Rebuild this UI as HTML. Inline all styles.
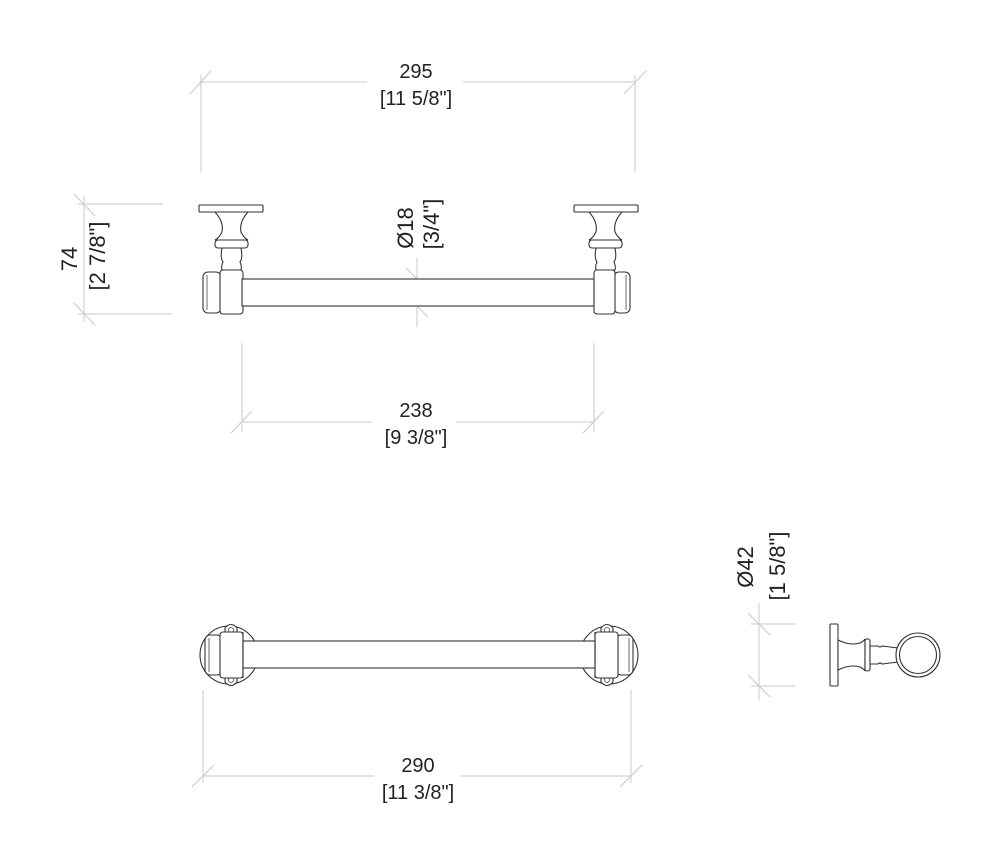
<!DOCTYPE html>
<html><head><meta charset="utf-8"><style>
html,body{margin:0;padding:0;background:#fff;}
svg{display:block;}
text{font-family:"Liberation Sans","DejaVu Sans",sans-serif;font-size:20px;fill:#222;text-anchor:middle;}
text.r{font-size:22px;}
.d{stroke:#c8c8c8;stroke-width:1;fill:none;}
.o{stroke:#333;stroke-width:1.1;fill:#fff;}
.t{stroke:#444;stroke-width:0.8;fill:none;}
</style></head><body>
<svg width="1000" height="859" viewBox="0 0 1000 859">
<!-- 295 dim -->
<line class="d" x1="201" y1="75" x2="201" y2="172"/>
<line class="d" x1="635" y1="75" x2="635" y2="172"/>
<line class="d" x1="201" y1="82" x2="367" y2="82"/>
<line class="d" x1="463" y1="82" x2="635" y2="82"/>
<line class="d" x1="190" y1="94" x2="211" y2="71"/>
<line class="d" x1="624" y1="94" x2="646" y2="71"/>
<text x="416" y="78">295</text>
<text x="416" y="105">[11 5/8"]</text>

<!-- 74 dim -->
<line class="d" x1="78" y1="204" x2="163" y2="204"/>
<line class="d" x1="78" y1="314" x2="172" y2="314"/>
<line class="d" x1="84" y1="196" x2="84" y2="322"/>
<line class="d" x1="74" y1="194" x2="95" y2="216"/>
<line class="d" x1="74" y1="303" x2="95" y2="325"/>
<text class="r" transform="translate(77,259) rotate(-90)">74</text>
<text class="r" transform="translate(105,256) rotate(-90)">[2 7/8"]</text>

<!-- Ø18 -->
<line class="d" x1="417" y1="258" x2="417" y2="327"/>
<line class="d" x1="406" y1="268" x2="428" y2="290"/>
<line class="d" x1="406" y1="295" x2="428" y2="317"/>
<text class="r" transform="translate(413,228) rotate(-90)">Ø18</text>
<text class="r" transform="translate(439,224) rotate(-90)">[3/4"]</text>

<!-- top view parts -->
<g>
<rect class="o" x="199" y="205" width="64" height="7" rx="1"/>
<line class="t" x1="222" y1="212" x2="242" y2="212"/>
<path class="o" d="M215,212 Q224,222 222,232 Q219,238 215,240 L248,240 Q244,238 241,232 Q239,222 248,212 Z"/>
<rect class="o" x="215" y="240" width="33" height="8" rx="3"/>
<path class="o" d="M222,248 Q220,258 223,262 Q221,266 222,270 L241,270 Q242,266 240,262 Q243,258 241,248 Z"/>
<rect class="o" x="203" y="272" width="18" height="41" rx="5"/>
<line class="t" x1="207" y1="275" x2="207" y2="310"/>
<rect class="o" x="220" y="270" width="23" height="44" rx="3"/>
</g>
<rect class="o" x="242" y="279" width="352" height="27"/>
<g transform="translate(837,0) scale(-1,1)">
<rect class="o" x="199" y="205" width="64" height="7" rx="1"/>
<line class="t" x1="222" y1="212" x2="242" y2="212"/>
<path class="o" d="M215,212 Q224,222 222,232 Q219,238 215,240 L248,240 Q244,238 241,232 Q239,222 248,212 Z"/>
<rect class="o" x="215" y="240" width="33" height="8" rx="3"/>
<path class="o" d="M222,248 Q220,258 223,262 Q221,266 222,270 L241,270 Q242,266 240,262 Q243,258 241,248 Z"/>
<rect class="o" x="207" y="272" width="16" height="41" rx="5"/>
<line class="t" x1="211" y1="275" x2="211" y2="310"/>
<rect class="o" x="222" y="270" width="21" height="44" rx="3"/>
</g>

<!-- 238 dim -->
<line class="d" x1="242" y1="343" x2="242" y2="431"/>
<line class="d" x1="594" y1="343" x2="594" y2="431"/>
<line class="d" x1="242" y1="422" x2="372" y2="422"/>
<line class="d" x1="456" y1="422" x2="594" y2="422"/>
<line class="d" x1="231" y1="433" x2="252" y2="411"/>
<line class="d" x1="583" y1="433" x2="604" y2="411"/>
<text x="416" y="417">238</text>
<text x="416" y="444">[9 3/8"]</text>

<!-- bottom view -->
<g>
<circle class="o" cx="229" cy="655" r="29"/>
<path class="o" d="M225,634 L225,628 Q231,621 237,628 L237,634 Z"/>
<path class="o" d="M225,676 L225,682 Q231,689 237,682 L237,676 Z"/>
<circle class="t" cx="231" cy="630" r="2.5"/>
<circle class="t" cx="231" cy="680" r="2.5"/>
<rect class="o" x="205" y="635" width="17" height="40" rx="5"/>
<line class="t" x1="209" y1="638" x2="209" y2="672"/>
<rect class="o" x="220" y="632" width="23" height="46" rx="3"/>
</g>
<g transform="translate(838,0) scale(-1,1)">
<circle class="o" cx="229" cy="655" r="29"/>
<path class="o" d="M225,634 L225,628 Q231,621 237,628 L237,634 Z"/>
<path class="o" d="M225,676 L225,682 Q231,689 237,682 L237,676 Z"/>
<circle class="t" cx="231" cy="630" r="2.5"/>
<circle class="t" cx="231" cy="680" r="2.5"/>
<rect class="o" x="205" y="635" width="17" height="40" rx="5"/>
<line class="t" x1="209" y1="638" x2="209" y2="672"/>
<rect class="o" x="220" y="632" width="23" height="46" rx="3"/>
</g>
<rect class="o" x="243" y="641" width="352" height="27"/>
<line class="o" x1="243" y1="632" x2="243" y2="678"/>
<line class="o" x1="595" y1="632" x2="595" y2="678"/>

<!-- 290 dim -->
<line class="d" x1="203" y1="690" x2="203" y2="783"/>
<line class="d" x1="631" y1="690" x2="631" y2="783"/>
<line class="d" x1="203" y1="776" x2="374" y2="776"/>
<line class="d" x1="461" y1="776" x2="631" y2="776"/>
<line class="d" x1="192" y1="787" x2="214" y2="765"/>
<line class="d" x1="620" y1="787" x2="642" y2="765"/>
<text x="418" y="772">290</text>
<text x="418" y="799">[11 3/8"]</text>

<!-- side view -->
<line class="d" x1="751" y1="624" x2="795" y2="624"/>
<line class="d" x1="751" y1="686" x2="795" y2="686"/>
<line class="d" x1="759" y1="603" x2="759" y2="700"/>
<line class="d" x1="748" y1="613" x2="770" y2="635"/>
<line class="d" x1="748" y1="675" x2="770" y2="697"/>
<text class="r" transform="translate(753,567) rotate(-90)">Ø42</text>
<text class="r" transform="translate(785,566) rotate(-90)">[1 5/8"]</text>
<rect class="o" x="830" y="624" width="8" height="62" rx="1"/>
<line class="t" x1="838" y1="633" x2="838" y2="677"/>
<path class="o" d="M838,640 Q850,646 860,643 Q864,641 865,639 L865,671 Q864,669 860,667 Q850,664 838,670 Z"/>
<rect class="o" x="865" y="639" width="5" height="32" rx="2"/>
<path class="o" d="M870,646 L878,646 Q880,648 882,646 L898,648 L898,662 L882,664 Q880,662 878,664 L870,664 Z"/>
<circle class="o" cx="918" cy="655" r="22"/>
<circle class="o" cx="918" cy="655" r="18.5"/>
</svg>
</body></html>
